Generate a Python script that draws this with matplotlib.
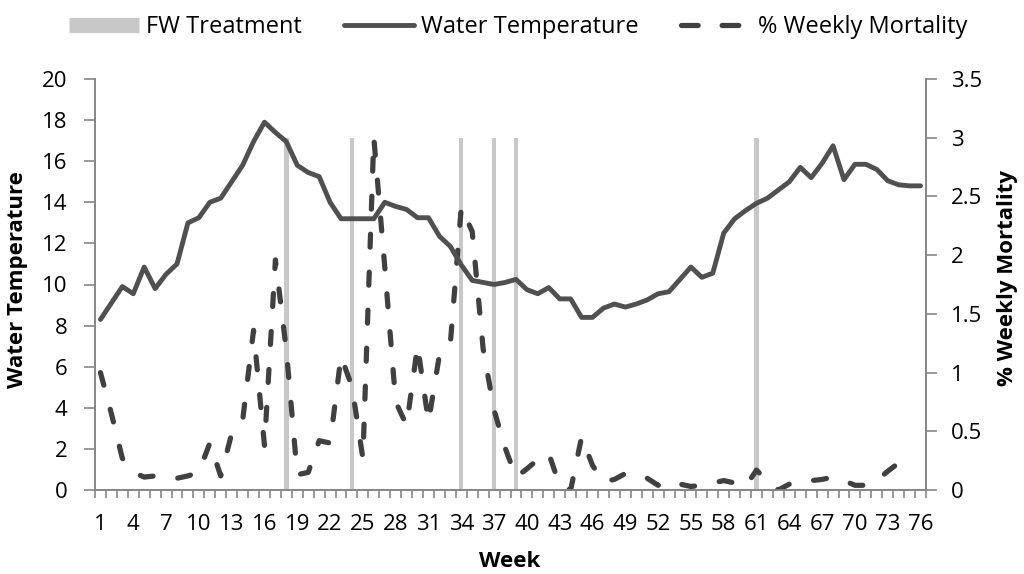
import matplotlib.pyplot as plt
import numpy as np
from matplotlib.lines import Line2D

plt.rcParams['font.family'] = ['Open Sans', 'DejaVu Sans']

weeks = list(range(1, 77))

water_temp = [8.3, 9.1, 9.9, 9.55, 10.85, 9.8, 10.5, 11.0, 13.0, 13.25,
              14.0, 14.2, 15.0, 15.8, 16.95, 17.9, 17.4, 16.95, 15.8, 15.45,
              15.25, 14.0, 13.2, 13.2, 13.2, 13.2, 14.0, 13.8, 13.65, 13.25,
              13.25, 12.35, 11.85, 10.95, 10.2, 10.1, 10.0, 10.1, 10.25, 9.75,
              9.55, 9.85, 9.3, 9.3, 8.4, 8.4, 8.85, 9.05, 8.9, 9.05,
              9.25, 9.55, 9.65, 10.25, 10.85, 10.35, 10.55, 12.5, 13.2, 13.6,
              13.95, 14.2, 14.6, 15.0, 15.7, 15.2, 15.9, 16.75, 15.1, 15.85,
              15.85, 15.6, 15.05, 14.85, 14.8, 14.8]

mortality = [1.0, 0.65, 0.27, 0.15, 0.11, 0.12, 0.12, 0.1, 0.12, 0.15,
             0.4, 0.12, 0.48, 0.59, 1.36, 0.38, 1.96, 1.19, 0.13, 0.15,
             0.42, 0.4, 1.14, 0.88, 0.27, 3.0, 1.9, 0.75, 0.55, 1.23,
             0.58, 1.15, 1.25, 2.41, 2.2, 1.2, 0.68, 0.36, 0.11, 0.18,
             0.26, 0.31, 0.04, 0.0, 0.45, 0.21, 0.07, 0.09, 0.14, 0.14,
             0.1, 0.04, 0.08, 0.05, 0.03, 0.04, 0.06, 0.08, 0.06, 0.03,
             0.17, 0.07, 0.0, 0.05, 0.08, 0.08, 0.09, 0.11, 0.08, 0.04,
             0.04, 0.08, 0.16, 0.23, 0.11, np.nan]

fw_weeks = [18, 24, 34, 37, 39, 61]
fw_value = [3, 3, 3, 3, 3, 3]

spine_col = '#868686'

fig = plt.figure(figsize=(10.24, 5.74), dpi=100)
ax = fig.add_axes([95/1024, 1-490/574, 831/1024, 411/574])
ax2 = ax.twinx()

# bars + mortality on the secondary axis
ax2.bar(fw_weeks, fw_value, width=0.4, color='#c8c8c8', zorder=1)
ax2.plot(weeks, mortality, color='#404040', lw=3.75,
         linestyle=(0, (2.5, 4.8)), dash_capstyle='round',
         dash_joinstyle='round', zorder=3)
ax.plot(weeks, water_temp, color='#505050', lw=3.5,
        solid_joinstyle='round', solid_capstyle='round')
ax.set_zorder(ax2.get_zorder() + 1)
ax.patch.set_visible(False)

ax.set_xlim(0.5, 76.5)
ax.set_ylim(0, 20)
ax2.set_ylim(0, 3.5)
ax.set_yticks(range(0, 21, 2))
ax2.set_yticks(np.arange(0, 3.6, 0.5))
ax2.set_yticklabels(['0', '0.5', '1', '1.5', '2', '2.5', '3', '3.5'])
ax.set_xticks(range(1, 77, 3))
ax.set_xticks(np.arange(0.5, 77, 1), minor=True)

ax.tick_params(axis='x', which='major', length=0, pad=17, labelsize=16)
ax.tick_params(axis='x', which='minor', length=6, color=spine_col, width=1.2)
ax.tick_params(axis='y', length=8, color=spine_col, width=1.2, pad=12, labelsize=16)
ax2.tick_params(axis='y', length=8, color=spine_col, width=1.2, pad=10, labelsize=16)

for a in (ax, ax2):
    a.spines['top'].set_visible(False)
    for s in ('left', 'right', 'bottom'):
        a.spines[s].set_color(spine_col)
        a.spines[s].set_linewidth(1.2)

fig.text(18/1024, 1-280/574, 'Water Temperature', rotation=90, ha='center',
         va='center', fontsize=16, fontweight='bold')
fig.text(1008/1024, 1-278/574, '% Weekly Mortality', rotation=90, ha='center',
         va='center', fontsize=16, fontweight='bold')
fig.text(510/1024, 1-567/574, 'Week', ha='center', va='baseline',
         fontsize=16, fontweight='bold')

handles = [Line2D([], [], color='#c8c8c8', lw=11, solid_capstyle='butt'),
           Line2D([], [], color='#505050', lw=3.5, solid_capstyle='round'),
           Line2D([], [], color='#404040', lw=3.75, linestyle=(0, (3.2, 4.6)),
                  dash_capstyle='round')]
labels = ['FW Treatment', 'Water Temperature', '% Weekly Mortality']
fig.legend(handles, labels, loc='center', bbox_to_anchor=(518/1024, 1-27/574),
           ncol=3, frameon=False, fontsize=17, handlelength=2.95,
           handletextpad=0.3, columnspacing=1.8)

fig.savefig('out.png', dpi=100)
